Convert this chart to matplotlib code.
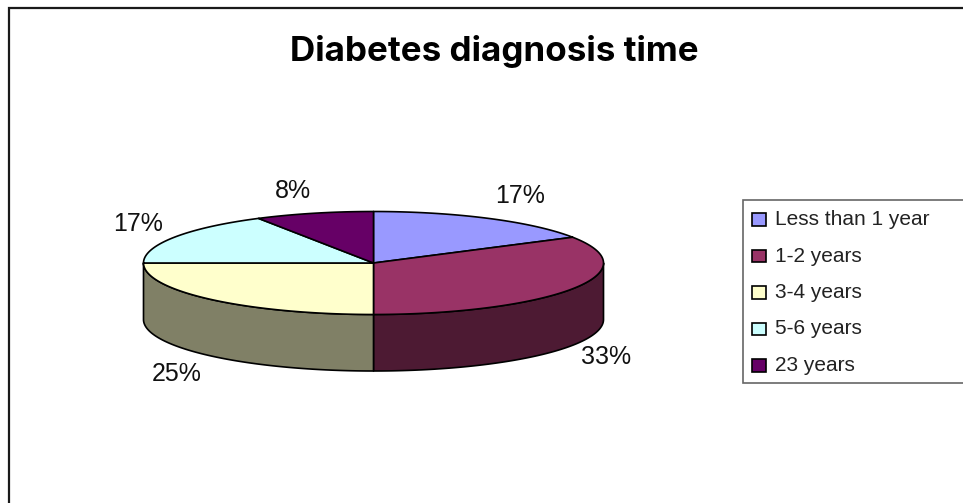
import matplotlib.pyplot as plt
from matplotlib.patches import Polygon, Rectangle
import numpy as np

plt.rcParams['font.family'] = ['Liberation Sans', 'DejaVu Sans']

title = 'Diabetes diagnosis time'
categories = ['Less than 1 year', '1-2 years', '3-4 years', '5-6 years', '23 years']
counts = [2, 4, 3, 2, 1]
colors = ['#9999FF', '#993366', '#FFFFCC', '#CCFFFF', '#660066']
side_colors = ['#4D4D80', '#4D1A33', '#808066', '#668080', '#330033']

# pie geometry, in pixels of the picture
cx, cy = 373.5, 263
rx, ry = 230, 51.5
depth = 56.5
label_pos = [(520.5, 196), (606.5, 357), (177, 374), (138.5, 224), (292.5, 190.5)]


def rim(a0, a1):
    # angles clockwise from 12 o'clock, degrees
    t = np.radians(np.linspace(a0, a1, max(int(abs(a1 - a0)) * 2, 2)))
    return np.column_stack([cx + rx * np.sin(t), cy - ry * np.cos(t)])


fig = plt.figure(figsize=(9.63, 5.03), dpi=100)
ax = fig.add_axes([0, 0, 1, 1])
ax.set_xlim(0, 963)
ax.set_ylim(503, 0)
ax.axis('off')

# outer chart frame, runs off the right and bottom of the picture
ax.add_patch(Rectangle((8.5, 8), 1000, 600, fc='white', ec='#1a1a1a', lw=1.6))

ax.text(494, 51.5, title, ha='center', va='center', fontsize=25.2,
        fontweight='bold', family=['Inter', 'DejaVu Sans'], color='black')

values = np.array(counts, dtype=float)
shares = values / values.sum()
edges = np.concatenate([[0], np.cumsum(shares) * 360])

# side walls first, only the front half of the rim shows
for i in range(len(values)):
    a0 = max(edges[i], 90)
    a1 = min(edges[i + 1], 270)
    if a1 <= a0:
        continue
    top = rim(a0, a1)
    low = top[::-1] + [0, depth]
    ax.add_patch(Polygon(np.vstack([top, low]), closed=True,
                         fc=side_colors[i], ec='black', lw=1.2, joinstyle='round'))

# top faces
for i in range(len(values)):
    pts = np.vstack([[cx, cy], rim(edges[i], edges[i + 1])])
    ax.add_patch(Polygon(pts, closed=True, fc=colors[i], ec='black', lw=1.2,
                         joinstyle='round'))

for share, (lx, ly) in zip(shares, label_pos):
    ax.text(lx, ly, f'{share * 100:.0f}%', ha='center', va='center',
            fontsize=18, color='#111111')

# legend box, open to the right edge of the picture
ax.add_patch(Rectangle((742.5, 200), 300, 183, fc='white', ec='#666666', lw=1.2))
for i, name in enumerate(categories):
    y = 219 + i * 36.5
    ax.add_patch(Rectangle((752, y - 6), 14, 12.5, fc=colors[i], ec='black', lw=1.2))
    ax.text(775, y + 0.5, name, ha='left', va='center', fontsize=15, color='#222222')

fig.savefig('out.png', dpi=100)
